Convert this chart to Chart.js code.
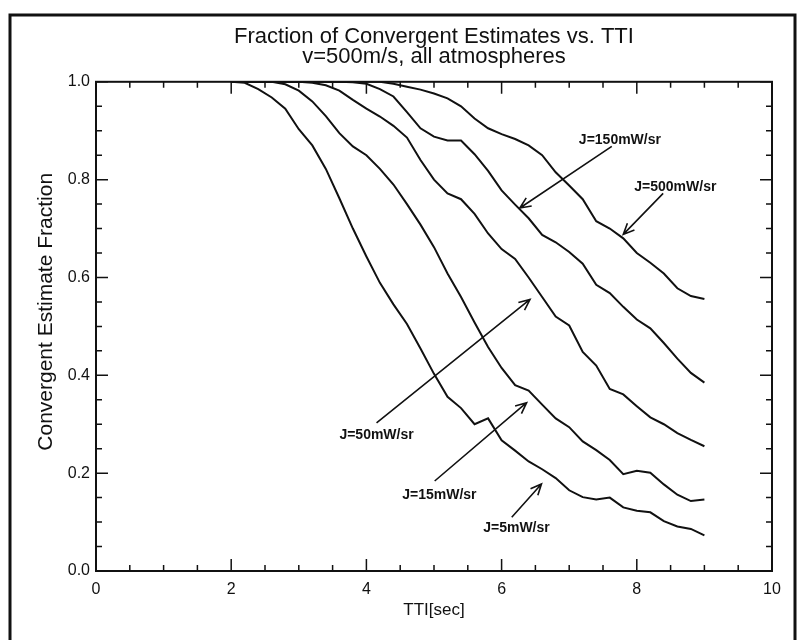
<!DOCTYPE html>
<html>
<head>
<meta charset="utf-8">
<script src="https://cdn.jsdelivr.net/npm/chart.js@4.4.1/dist/chart.umd.min.js"></script>
<style>
  html, body { margin: 0; padding: 0; background: #fff; }
  #wrap { position: relative; width: 798px; height: 640px; overflow: hidden; }
</style>
</head>
<body>
<div id="wrap"><canvas id="chart" width="798" height="640"></canvas></div>
<script>
// time to intercept, seconds
const tti = [2.0, 2.2, 2.4, 2.6, 2.8, 3.0, 3.2, 3.4, 3.6, 3.8, 4.0, 4.2, 4.4, 4.6, 4.8, 5.0, 5.2, 5.4,
             5.6, 5.8, 6.0, 6.2, 6.4, 6.6, 6.8, 7.0, 7.2, 7.4, 7.6, 7.8, 8.0, 8.2, 8.4, 8.6, 8.8, 9.0];

// fraction of convergent estimates, one list per source intensity
const j5 = [1.0, 0.998, 0.985, 0.968, 0.945, 0.903, 0.870, 0.822, 0.762, 0.700, 0.643, 0.589, 0.545, 0.505,
            0.455, 0.403, 0.356, 0.333, 0.300, 0.312, 0.267, 0.246, 0.224, 0.208, 0.190, 0.165, 0.151, 0.146,
            0.150, 0.130, 0.123, 0.120, 0.102, 0.091, 0.086, 0.073];
const j15 = [1.0, 1.0, 1.0, 1.0, 0.995, 0.982, 0.960, 0.930, 0.895, 0.868, 0.850, 0.822, 0.790, 0.750,
             0.708, 0.662, 0.608, 0.560, 0.508, 0.458, 0.415, 0.380, 0.369, 0.340, 0.312, 0.294, 0.265, 0.247,
             0.227, 0.198, 0.205, 0.201, 0.177, 0.156, 0.143, 0.146];
const j50 = [1.0, 1.0, 1.0, 1.0, 1.0, 1.0, 0.998, 0.993, 0.982, 0.963, 0.945, 0.929, 0.910, 0.886,
             0.840, 0.800, 0.772, 0.760, 0.730, 0.690, 0.658, 0.638, 0.600, 0.560, 0.520, 0.502, 0.448, 0.420,
             0.372, 0.361, 0.337, 0.314, 0.300, 0.282, 0.268, 0.255];
const j150 = [1.0, 1.0, 1.0, 1.0, 1.0, 1.0, 1.0, 1.0, 1.0, 0.999, 0.996, 0.985, 0.970, 0.938,
              0.905, 0.888, 0.880, 0.880, 0.852, 0.818, 0.778, 0.749, 0.721, 0.687, 0.672, 0.652, 0.628, 0.585,
              0.568, 0.540, 0.514, 0.496, 0.466, 0.434, 0.405, 0.385];
const j500 = [1.0, 1.0, 1.0, 1.0, 1.0, 1.0, 1.0, 1.0, 1.0, 1.0, 1.0, 1.0, 0.996, 0.990,
              0.984, 0.976, 0.966, 0.950, 0.925, 0.905, 0.893, 0.883, 0.870, 0.850, 0.815, 0.788, 0.760, 0.715,
              0.700, 0.680, 0.650, 0.630, 0.608, 0.578, 0.562, 0.556];

const seriesNames = ['J=5mW/sr', 'J=15mW/sr', 'J=50mW/sr', 'J=150mW/sr', 'J=500mW/sr'];
const seriesValues = [j5, j15, j50, j150, j500];

// curve labels with arrows, in data units: text centre, arrow tail, arrow head
const notes = [
  { text: 'J=150mW/sr', at: [7.75, 0.880], from: [7.63, 0.868], to: [6.27, 0.742] },
  { text: 'J=500mW/sr', at: [8.57, 0.784], from: [8.39, 0.772], to: [7.80, 0.688] },
  { text: 'J=50mW/sr', at: [4.15, 0.278], from: [4.15, 0.303], to: [6.42, 0.555] },
  { text: 'J=15mW/sr', at: [5.08, 0.155], from: [5.01, 0.184], to: [6.37, 0.344] },
  { text: 'J=5mW/sr', at: [6.22, 0.088], from: [6.15, 0.110], to: [6.59, 0.178] }
];

const ink = '#111';
const plain = "'Liberation Sans', Arial, sans-serif";

function arrow(ctx, x0, y0, x1, y1) {
  const ang = Math.atan2(y1 - y0, x1 - x0), h = 12, w = 0.42;
  ctx.beginPath();
  ctx.moveTo(x0, y0);
  ctx.lineTo(x1, y1);
  ctx.moveTo(x1 - h * Math.cos(ang - w), y1 - h * Math.sin(ang - w));
  ctx.lineTo(x1, y1);
  ctx.lineTo(x1 - h * Math.cos(ang + w), y1 - h * Math.sin(ang + w));
  ctx.stroke();
}

// box, inward ticks on all four sides, page frame and the curve labels
const decorations = {
  id: 'decorations',
  afterDraw(chart) {
    const { ctx, chartArea: a, scales: { x, y } } = chart;
    ctx.save();
    ctx.strokeStyle = ink;
    ctx.lineWidth = 3;
    ctx.strokeRect(10, 15, 785, 700);

    ctx.lineWidth = 2;
    ctx.strokeRect(a.left, a.top, a.right - a.left, a.bottom - a.top);

    ctx.lineWidth = 1.5;
    ctx.beginPath();
    for (let i = 0; i <= 20; i++) {
      const px = x.getPixelForValue(i * 0.5);
      const len = i % 4 === 0 ? 12 : 6;
      ctx.moveTo(px, a.bottom); ctx.lineTo(px, a.bottom - len);
      ctx.moveTo(px, a.top); ctx.lineTo(px, a.top + len);
    }
    for (let i = 0; i <= 20; i++) {
      const py = y.getPixelForValue(i * 0.05);
      const len = i % 4 === 0 ? 12 : 6;
      ctx.moveTo(a.left, py); ctx.lineTo(a.left + len, py);
      ctx.moveTo(a.right, py); ctx.lineTo(a.right - len, py);
    }
    ctx.stroke();

    ctx.font = "bold 14px " + plain;
    ctx.fillStyle = ink;
    ctx.textAlign = 'center';
    ctx.textBaseline = 'middle';
    ctx.lineWidth = 1.6;
    notes.forEach(n => {
      ctx.fillText(n.text, x.getPixelForValue(n.at[0]), y.getPixelForValue(n.at[1]));
      arrow(ctx, x.getPixelForValue(n.from[0]), y.getPixelForValue(n.from[1]),
                 x.getPixelForValue(n.to[0]), y.getPixelForValue(n.to[1]));
    });
    ctx.restore();
  }
};

new Chart(document.getElementById('chart'), {
  type: 'line',
  data: {
    datasets: seriesValues.map((vals, k) => ({
      label: seriesNames[k],
      data: vals.map((v, i) => ({ x: tti[i], y: v })),
      borderColor: ink,
      borderWidth: 2,
      pointRadius: 0,
      tension: 0,
      fill: false
    }))
  },
  options: {
    responsive: false,
    animation: false,
    devicePixelRatio: 1,
    layout: { padding: { left: 0, right: 26, top: 0, bottom: 0 } },
    plugins: {
      legend: { display: false },
      tooltip: { enabled: false },
      title: {
        display: true,
        fullSize: false,
        text: ['Fraction of Convergent Estimates vs. TTI', 'v=500m/s, all atmospheres'],
        color: ink,
        font: { family: plain, size: 22, weight: 'normal', lineHeight: 0.95 },
        padding: { top: 26, bottom: 14 }
      }
    },
    scales: {
      x: {
        type: 'linear',
        min: 0, max: 10,
        grid: { display: false, drawTicks: false },
        border: { display: false },
        ticks: { stepSize: 2, padding: 9, color: ink, font: { family: plain, size: 16 }, maxRotation: 0 },
        title: { display: true, text: 'TTI[sec]', color: ink, font: { family: plain, size: 17 }, padding: { top: 0, bottom: 19 } },
        afterFit: s => { s.height = 69; }
      },
      y: {
        min: 0, max: 1,
        grid: { display: false, drawTicks: false },
        border: { display: false },
        ticks: { stepSize: 0.2, padding: 6, color: ink, font: { family: plain, size: 16 }, callback: v => v.toFixed(1) },
        // leading spaces lift the centred label a little above the middle of the axis
        title: { display: true, text: '     Convergent Estimate Fraction', color: ink, font: { family: plain, size: 21 }, padding: { top: 34, bottom: 0 } },
        afterFit: s => { s.width = 96; }
      }
    }
  },
  plugins: [decorations]
});
</script>
</body>
</html>
